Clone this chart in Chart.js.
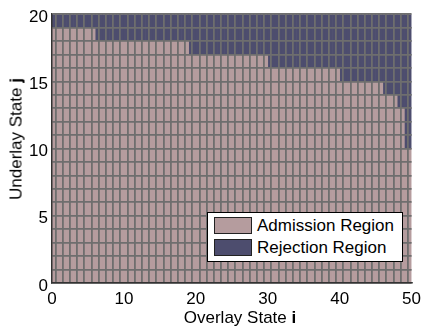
<!DOCTYPE html>
<html lang="en">
<head>
    <meta charset="UTF-8">
    <title>Admission Region</title>
    <script src="https://cdn.jsdelivr.net/npm/chart.js"></script>
    <style>
        body { margin: 0; background: #fff; font-family: Arial, "Liberation Sans", sans-serif; }
        #wrap { position: relative; width: 427px; height: 331px; }
        .title { position: absolute; font-size: 17px; line-height: 17px; white-space: nowrap; color: #000; }
        #xtitle { left: 240px; top: 317px; transform: translate(-50%, -50%); }
        #ytitle { left: 15.5px; top: 139px; transform: translate(-50%, -50%) rotate(-90deg); }
        #legend {
            position: absolute; left: 207px; top: 212px; width: 194px; height: 48px;
            background: #fff; border: 1px solid #000; font-size: 17px;
        }
        .row { position: absolute; left: 6px; height: 17px; line-height: 17px; white-space: nowrap; }
        .sw { display: inline-block; width: 36px; height: 15px; border: 1px solid #222; vertical-align: top; margin-right: 5px; }
    </style>
</head>
<body>
    <div id="wrap">
        <canvas id="chart" width="427" height="331"></canvas>
        <div class="title" id="xtitle">Overlay State <b>i</b></div>
        <div class="title" id="ytitle">Underlay State <b>j</b></div>
        <div id="legend">
            <div class="row" style="top: 4px;"><span class="sw" style="background: #b59c9e;"></span>Admission Region</div>
            <div class="row" style="top: 26px;"><span class="sw" style="background: #4d4d6e;"></span>Rejection Region</div>
        </div>
    </div>

    <script>
        // tick labels
        const xTicks = [0, 10, 20, 30, 40, 50];
        const yTicks = [0, 5, 10, 15, 20];

        // highest admitted underlay state for each overlay column i = 0..49
        const admitTop = [
            19, 19, 19, 19, 19, 19,
            18, 18, 18, 18, 18, 18, 18, 18, 18, 18, 18, 18, 18,
            17, 17, 17, 17, 17, 17, 17, 17, 17, 17, 17,
            16, 16, 16, 16, 16, 16, 16, 16, 16, 16,
            15, 15, 15, 15, 15, 15,
            14, 14,
            13,
            10
        ];

        const xMax = xTicks[xTicks.length - 1];
        const yMax = yTicks[yTicks.length - 1];

        // one floating bar per cell
        const admission = [];
        const rejection = [];
        admitTop.forEach((top, i) => {
            for (let j = 0; j < yMax; j++) {
                (j < top ? admission : rejection).push({ x: i + 0.5, y: [j, j + 1] });
            }
        });

        Chart.defaults.font.family = 'Arial, "Liberation Sans", sans-serif';
        Chart.defaults.font.size = 17;
        Chart.defaults.color = '#000';

        const cellOpts = { grouped: false, barPercentage: 1, categoryPercentage: 1, borderWidth: 0, borderSkipped: false };

        new Chart(document.getElementById('chart'), {
            type: 'bar',
            data: {
                datasets: [
                    { label: 'Admission Region', data: admission, backgroundColor: '#b59c9e', ...cellOpts },
                    { label: 'Rejection Region', data: rejection, backgroundColor: '#4d4d6e', ...cellOpts }
                ]
            },
            options: {
                responsive: false,
                animation: false,
                layout: { padding: { top: 8, right: 11, left: 0, bottom: 0 } },
                plugins: { legend: { display: false }, tooltip: { enabled: false } },
                scales: {
                    x: {
                        type: 'linear', min: 0, max: xMax, offset: false,
                        afterBuildTicks: s => { s.ticks = Array.from({ length: xMax + 1 }, (_, k) => ({ value: k })); },
                        afterFit: s => { s.height = 48; },
                        ticks: { autoSkip: false, maxRotation: 0, padding: 6, callback: v => xTicks.includes(v) ? v : '' },
                        grid: { color: '#6e6e6e', lineWidth: 1.8, drawTicks: false, z: 1 },
                        border: { color: '#333', width: 1.5, z: 2 }
                    },
                    y: {
                        type: 'linear', min: 0, max: yMax,
                        afterBuildTicks: s => { s.ticks = Array.from({ length: yMax + 1 }, (_, k) => ({ value: k })); },
                        afterFit: s => { s.width = 52; },
                        ticks: { autoSkip: false, padding: 4, labelOffset: 3, callback: v => yTicks.includes(v) ? v : '' },
                        grid: { color: '#6e6e6e', lineWidth: 1.8, drawTicks: false, z: 1 },
                        border: { color: '#333', width: 1.5, z: 2 }
                    }
                }
            }
        });
    </script>
</body>
</html>
